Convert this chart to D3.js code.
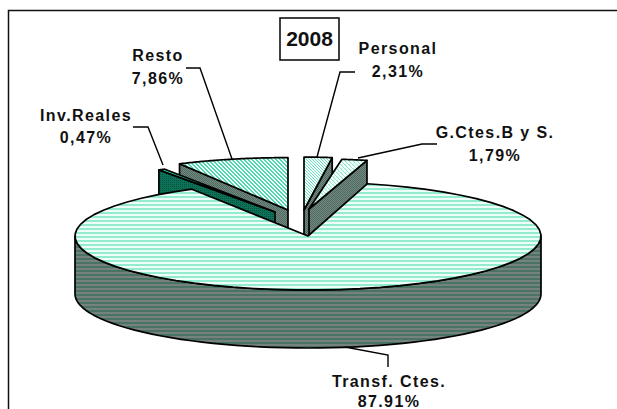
<!DOCTYPE html>
<html><head><meta charset="utf-8">
<script src="https://cdn.jsdelivr.net/npm/d3@7"></script>
<style>html,body{margin:0;background:#fff}svg{display:block}text{font-family:"Liberation Sans",Arial,sans-serif;font-weight:bold;fill:#111}</style>
</head><body><svg id="c" width="617" height="409"></svg>
<script>
const categories=["Personal","G.Ctes.B y S.","Transf. Ctes.","Inv.Reales","Resto"];
const values=[2.31,1.79,87.91,0.47,7.86];
const valueLabels=["2,31%","1,79%","87.91%","0,47%","7,86%"];
const title="2008";

// layout only
const cx=308,cy=236,rx=233,ry=54,depth=58;
const explodeX=[-4,1,0,-33,-20], explodeY=[-26,-27,0,-24,-26];
const shrinkX=[.84,.98,1,1,.985], shrinkY=[.98,.93,1,.9,.97];
const labelX=[398,495,389,86,158], labelY=[54,138,387,121,61], labelGap=[23,23,20,22,23];
const leaders=[[[355,72],[340,72],[317,157]],[[437,144],[422,144],[358,158]],[[345,347],[388,355],[388,367]],[[133,127],[148,127],[163,165]],[[186,68],[200,68],[232,159]]];

const svg=d3.select("#c");
const defs=svg.append("defs");
function pat(id,w,h,bg,rects){const p=defs.append("pattern").attr("id",id).attr("patternUnits","userSpaceOnUse").attr("width",w).attr("height",h);
 p.append("rect").attr("width",w).attr("height",h).attr("fill",bg);
 rects.forEach(r=>p.append("rect").attr("x",r[0]).attr("y",r[1]).attr("width",r[2]).attr("height",r[3]).attr("fill",r[4]));}
pat("mainTop",4,4,"#effdf8",[[0,0,4,2,"#94ecd0"]]);
pat("mainSide",4,4,"#4a7364",[[0,0,4,2,"#76827d"]]);
const stair=(c)=>d3.range(4).flatMap(y=>[[y,y,1,1,c],[(y+1)%4,y,1,1,c]]);
pat("restoTop",4,4,"#f4fffb",stair("#4fd8b0"));
pat("persTop",3,3,"#f4fffb",[[0,0,1,1,"#6fe0bd"],[1,1,1,1,"#6fe0bd"],[2,2,1,1,"#6fe0bd"]]);
pat("gctesTop",4,4,"#f4fffb",[[0,0,1,1,"#8fe8cd"],[1,1,1,1,"#8fe8cd"],[2,2,1,1,"#8fe8cd"],[3,3,1,1,"#8fe8cd"],[1,0,1,1,"#c8f6e6"],[2,1,1,1,"#c8f6e6"]]);
pat("diagSide",2,2,"#74877f",[[0,0,1,1,"#4f6c62"],[1,1,1,1,"#4f6c62"]]);
pat("darkSide",2,2,"#0d7258",[[0,0,1,1,"#045240"]]);

const topFill=["url(#persTop)","url(#gctesTop)","url(#mainTop)","#35dcaa","url(#restoTop)"];
const sideFill=["url(#diagSide)","url(#diagSide)","url(#mainSide)","url(#darkSide)","url(#diagSide)"];

const pie=d3.pie().sort(null).value(d=>d)(values);
const sx=d3.scaleLinear().domain([-1,1]).range([-rx,rx]);
const sy=d3.scaleLinear().domain([-1,1]).range([-ry,ry]);
function pt(a,i){return [cx+explodeX[i]+sx(Math.sin(a))*shrinkX[i], cy+explodeY[i]-sy(Math.cos(a))*shrinkY[i]];}
function arcPts(a0,a1,i){return d3.range(0,61).map(k=>pt(a0+(a1-a0)*k/60,i));}
const line=d3.line();
const mark=(d,fill)=>svg.append("path").attr("d",d).attr("fill",fill).attr("stroke","#000").attr("stroke-width",1.7).attr("stroke-linejoin","round");

// frame
svg.append("path").attr("d","M8.5,409V10.5H617").attr("fill","none").attr("stroke","#111").attr("stroke-width",1.5);

// exploded slices, back to front
[4,3,0,1].forEach(i=>{
 const s=pie[i],a0=s.startAngle,a1=s.endAngle,ap=[cx+explodeX[i],cy+explodeY[i]];
 const edge=(i<2)?pt(a1,i):pt(a0,i);
 mark(line([ap,edge,[edge[0],edge[1]+depth],[ap[0],ap[1]+depth]])+"Z",sideFill[i]);
 mark(line([ap,...arcPts(a0,a1,i)])+"Z",topFill[i]);
});

// main slice: side wall then top
{const s=pie[2],i=2;
 const front=arcPts(Math.PI/2,Math.PI*1.5,i);
 mark(line([...front,...front.slice().reverse().map(p=>[p[0],p[1]+depth])])+"Z",sideFill[i]);
 mark(line([[cx,cy],...arcPts(s.startAngle,s.endAngle,i)])+"Z",topFill[i]);
}

// leaders
svg.selectAll(".leader").data(leaders).join("path").attr("class","leader").attr("d",d=>line(d)).attr("fill","none").attr("stroke","#000").attr("stroke-width",1.4);

// labels
categories.forEach((c,i)=>{
 const t=svg.append("text").attr("text-anchor","middle").attr("font-size",16).attr("letter-spacing",1.4);
 t.append("tspan").attr("x",labelX[i]).attr("y",labelY[i]).text(c);
 t.append("tspan").attr("x",labelX[i]).attr("y",labelY[i]+labelGap[i]).text(valueLabels[i]);
});
// title box
svg.append("rect").attr("x",280).attr("y",18).attr("width",59).attr("height",42).attr("fill","#fff").attr("stroke","#111").attr("stroke-width",1.6);
svg.append("text").attr("x",309.5).attr("y",46).attr("text-anchor","middle").attr("font-size",21).text(title);
</script></body></html>
